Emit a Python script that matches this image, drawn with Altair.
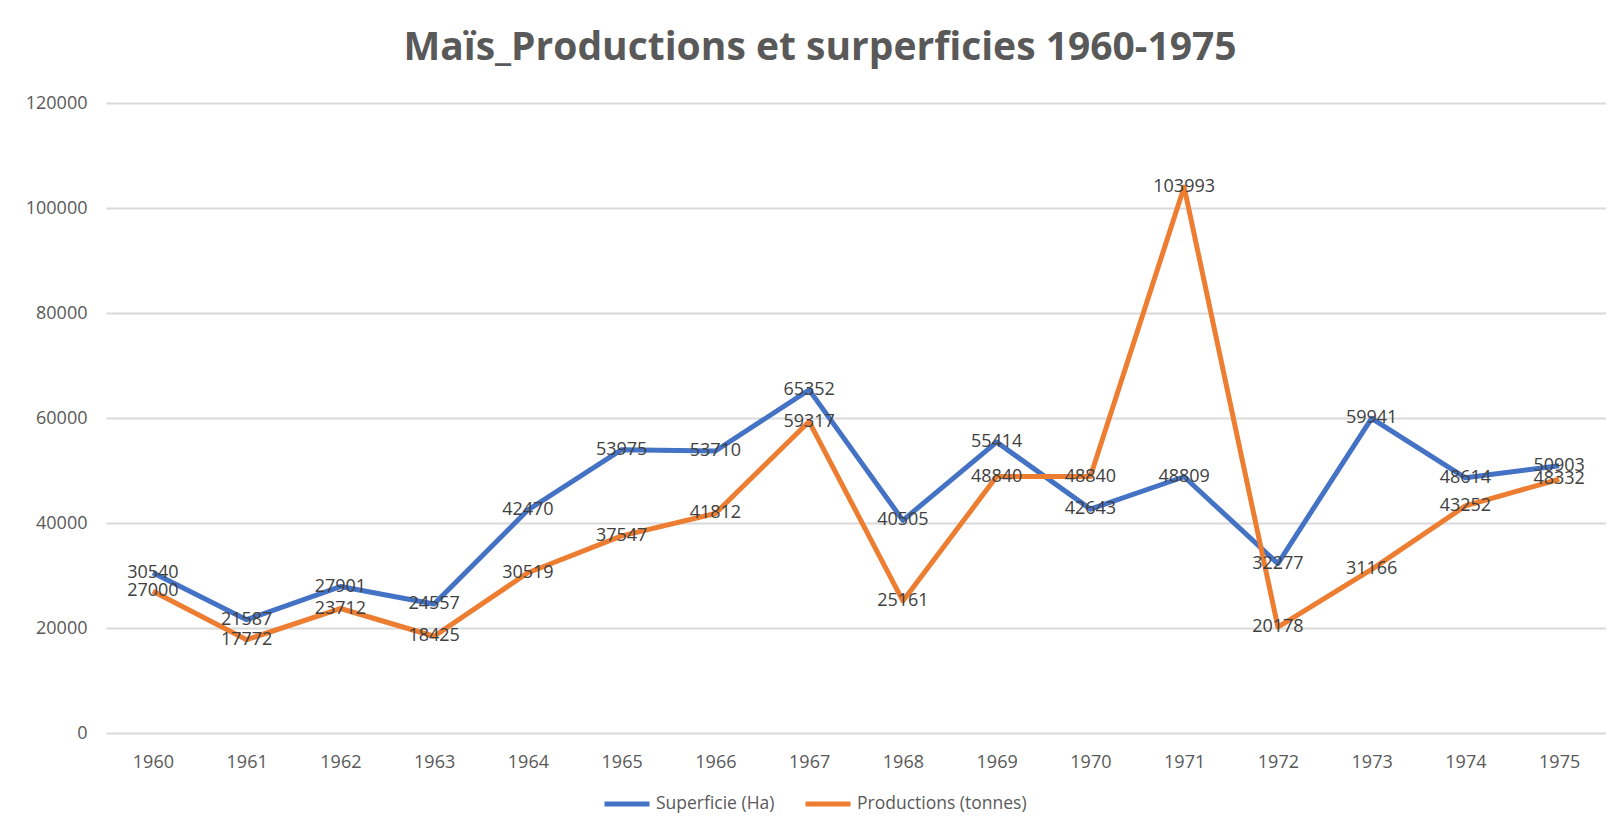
import altair as alt
import pandas as pd

years = [str(y) for y in range(1960, 1976)]
superficie = [30540, 21587, 27901, 24557, 42470, 53975, 53710, 65352,
              40505, 55414, 42643, 48809, 32277, 59941, 48614, 50903]
productions = [27000, 17772, 23712, 18425, 30519, 37547, 41812, 59317,
               25161, 48840, 48840, 103993, 20178, 31166, 43252, 48332]
series_names = ["Superficie (Ha)", "Productions (tonnes)"]
series_colors = ["#4472C4", "#ED7D31"]
y_ticks = [0, 20000, 40000, 60000, 80000, 100000, 120000]

rows = []
for name, vals in zip(series_names, [superficie, productions]):
    for yr, v in zip(years, vals):
        rows.append({"annee": yr, "valeur": v, "serie": name})
df = pd.DataFrame(rows)

FONT = "Open Sans"

x_enc = alt.X("annee:O", title=None, sort=years,
              axis=alt.Axis(labelAngle=0, domain=False, ticks=False,
                            labelPadding=20, labelFontSize=18,
                            labelColor="#595959", labelFont=FONT))
y_enc = alt.Y("valeur:Q", title=None,
              scale=alt.Scale(domain=[0, 120000], nice=False),
              axis=alt.Axis(values=y_ticks, format="d", domain=False, ticks=False,
                            labelPadding=19, labelFontSize=18,
                            labelColor="#595959", labelFont=FONT,
                            gridColor="#d9d9d9", gridWidth=2))

color_enc = alt.Color("serie:N",
                      scale=alt.Scale(domain=series_names, range=series_colors),
                      legend=alt.Legend(title=None, orient="none",
                                        legendX=496, legendY=676,
                                        direction="horizontal",
                                        symbolType="stroke", symbolSize=2025,
                                        symbolStrokeWidth=5, labelOffset=4,
                                        columnPadding=20, padding=0,
                                        labelLimit=500,
                                        labelFontSize=17.5, labelColor="#595959",
                                        labelFont=FONT))

base = alt.Chart(df)

layers = []
for name in series_names:
    layers.append(
        base.transform_filter(alt.datum.serie == name)
        .mark_line(strokeWidth=5, strokeJoin="round")
        .encode(x=x_enc, y=y_enc, color=color_enc)
    )
for name in series_names:
    layers.append(
        base.transform_filter(alt.datum.serie == name)
        .mark_text(fontSize=18, font=FONT, color="#404040",
                   align="center", baseline="middle")
        .encode(x=x_enc, y=y_enc, text=alt.Text("valeur:Q", format="d"))
    )

chart = alt.layer(*layers).properties(
    width=1500, height=630,
    autosize=alt.AutoSizeParams(type="none"),
    padding={"left": 98, "top": 95, "right": 0, "bottom": 95},
    title=alt.TitleParams(
        "Maïs_Productions et surperficies 1960-1975",
        font="Liberation Sans Narrow, Open Sans", fontSize=39, fontWeight="bold",
        color="#595959", anchor="middle", dx=-36, offset=-5, frame="group",
        baseline="alphabetic"),
    background="white",
).configure_view(stroke=None)

chart.save("out.html", embed_options={"renderer": "svg", "actions": False})
